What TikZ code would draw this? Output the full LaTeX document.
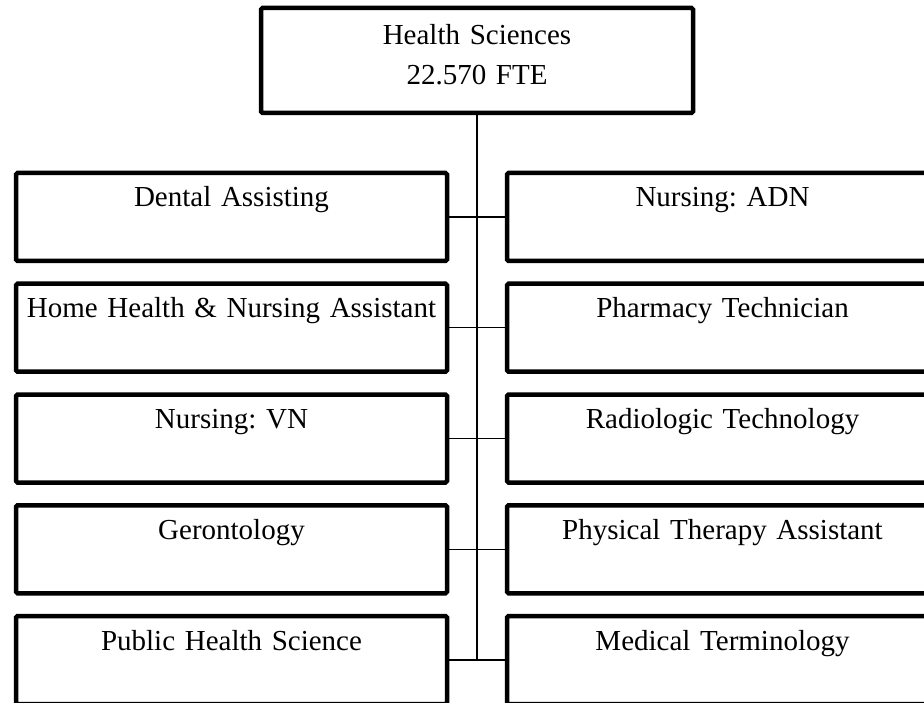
\documentclass[tikz,border=0pt]{standalone}
\usepackage{fontspec}
\setmainfont{Liberation Serif}
\usetikzlibrary{positioning}

\begin{document}
\begin{tikzpicture}[
  x=1pt, y=-1pt,
  node distance=22.75pt and 60pt,
  unit/.style={draw, line width=4.5pt, rounded corners=1.5pt, inner sep=0pt, outer sep=0pt, align=center,
    text width=431pt, text height=34pt, text depth=54pt, font=\fontsize{29pt}{40pt}\selectfont\frenchspacing},
  head/.style={unit, text width=432pt, text height=37pt, text depth=68pt},
  link/.style={line width=1.2pt}
]
  \useasboundingbox (0,0) rectangle (924,703);
  \node[head, anchor=north] (hs) at (477,8) {Health Sciences\\22.570 FTE};
  % left column
  \node[unit, below left=60pt and 30pt of hs.south] (da) {Dental Assisting};
  \node[unit, below=of da] (hhna) {Home Health \& Nursing Assistant};
  \node[unit, below=of hhna] (vn) {Nursing: VN};
  \node[unit, below=of vn] (geron) {Gerontology};
  \node[unit, below=of geron] (phs) {Public Health Science};
  % right column
  \node[unit, right=of da] (adn) {Nursing: ADN};
  \node[unit, right=of hhna] (pharm) {Pharmacy Technician};
  \node[unit, right=of vn] (radio) {Radiologic Technology};
  \node[unit, right=of geron] (pta) {Physical Therapy Assistant};
  \node[unit, right=of phs] (medterm) {Medical Terminology};
  \coordinate (base) at (hs.south |- phs.east);
  \draw[link] (hs) -- (base);
  \foreach \l/\r in {da/adn, hhna/pharm, vn/radio, geron/pta, phs/medterm}
    \draw[link] (\l) -- (\r);
\end{tikzpicture}
\end{document}
